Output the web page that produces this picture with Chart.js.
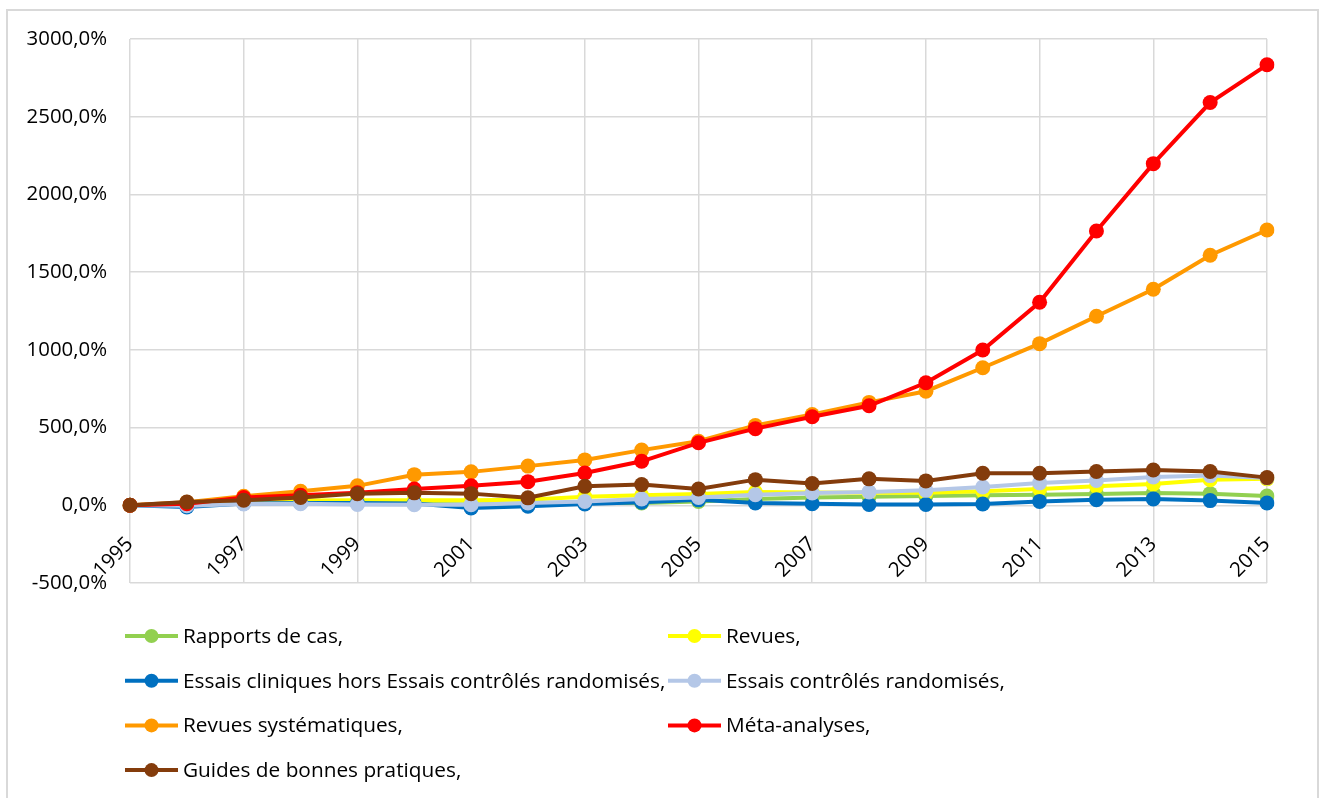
<!DOCTYPE html>
<html>
<head>
<meta charset="utf-8">
<script src="https://cdn.jsdelivr.net/npm/chart.js@4"></script>
<style>
  html, body { margin: 0; padding: 0; background: #fff; }
  #c { display: block; }
</style>
</head>
<body>
<canvas id="c" width="1325" height="798"></canvas>
<script>
const years = ['1995','1996','1997','1998','1999','2000','2001','2002','2003','2004','2005','2006','2007','2008','2009','2010','2011','2012','2013','2014','2015'];

const seriesNames = [
  'Rapports de cas,',
  'Revues,',
  'Essais cliniques hors Essais contrôlés randomisés,',
  'Essais contrôlés randomisés,',
  'Revues systématiques,',
  'Méta-analyses,',
  'Guides de bonnes pratiques,'
];

const rapportsDeCas   = [0, 5, 20, 20, 15, 10, 5, 10, 15, 15, 25, 40, 50, 55, 60, 64, 68, 73, 79, 75, 60];
const revues          = [0, 10, 25, 30, 32, 33, 32, 36, 55, 65, 72, 85, 82, 80, 80, 90, 105, 122, 137, 165, 170];
const essaisCliniques = [0, -11, 12, 15, 15, 12, -17, -6, 8, 20, 35, 15, 10, 5, 5, 8, 25, 36, 41, 30, 15];
const essaisControles = [0, -3, 8, 10, 5, 4, 4, 15, 25, 41, 50, 68, 79, 86, 96, 118, 144, 160, 182, 191, 176];
const revuesSystematiques = [0, 20, 58, 90, 125, 197, 215, 252, 292, 355, 412, 513, 584, 662, 734, 885, 1040, 1216, 1390, 1609, 1771];
const metaAnalyses    = [0, 10, 50, 65, 80, 105, 125, 152, 208, 283, 402, 493, 570, 640, 788, 999, 1306, 1765, 2198, 2591, 2834];
const guides          = [0, 21, 32, 50, 75, 80, 75, 48, 122, 133, 105, 165, 140, 170, 157, 206, 206, 217, 227, 217, 178];

const yTickMin = -500, yTickMax = 3000, yTickStep = 500;

const seriesValues = [rapportsDeCas, revues, essaisCliniques, essaisControles, revuesSystematiques, metaAnalyses, guides];
const seriesColors = ['#92D050', '#FFFF00', '#0070C0', '#B4C7E7', '#FF9900', '#FF0000', '#843C0C'];

const FONT = "'Open Sans', 'Liberation Sans', sans-serif";
Chart.defaults.font.family = FONT;
Chart.defaults.font.size = 20.4;
Chart.defaults.color = '#000';

const datasets = seriesValues.map((vals, i) => ({
  label: seriesNames[i],
  data: vals,
  borderColor: seriesColors[i],
  backgroundColor: seriesColors[i],
  pointBackgroundColor: seriesColors[i],
  pointBorderWidth: 0,
  pointRadius: 7.5,
  pointHoverRadius: 7.5,
  borderWidth: 4,
  tension: 0,
  fill: false,
  order: seriesValues.length - i
}));

const frameAndLegend = {
  id: 'frameAndLegend',
  beforeDraw(chart) {
    const ctx = chart.ctx;
    ctx.save();
    ctx.fillStyle = '#fff';
    ctx.fillRect(0, 0, chart.width, chart.height);
    ctx.strokeStyle = '#d9d9d9';
    ctx.lineWidth = 2;
    ctx.strokeRect(7, 10, 1311, 820);
    ctx.restore();
  },
  afterDraw(chart) {
    const ctx = chart.ctx;
    ctx.save();
    ctx.font = '20.8px ' + FONT;
    ctx.textBaseline = 'middle';
    ctx.textAlign = 'left';
    chart.data.datasets.forEach((ds, i) => {
      const col = i % 2, row = Math.floor(i / 2);
      const x0 = 125 + col * 543;
      const yc = 636 + row * 44.7;
      ctx.strokeStyle = ds.borderColor;
      ctx.lineWidth = 4;
      ctx.beginPath();
      ctx.moveTo(x0, yc);
      ctx.lineTo(x0 + 53, yc);
      ctx.stroke();
      ctx.fillStyle = ds.borderColor;
      ctx.beginPath();
      ctx.arc(x0 + 26.5, yc, 7, 0, Math.PI * 2);
      ctx.fill();
      ctx.fillStyle = '#000';
      ctx.fillText(ds.label, x0 + 58, yc + 1);
    });
    ctx.restore();
  }
};

new Chart(document.getElementById('c'), {
  type: 'line',
  data: { labels: years, datasets },
  plugins: [frameAndLegend],
  options: {
    responsive: false,
    animation: false,
    layout: { padding: { left: 0, top: 39, right: 58, bottom: 215 } },
    plugins: { legend: { display: false }, tooltip: { enabled: false } },
    scales: {
      x: {
        position: { y: 0 },
        offset: false,
        grid: { color: '#d9d9d9', lineWidth: 1.5, drawTicks: false },
        border: { display: false },
        ticks: {
          autoSkip: false,
          minRotation: 45,
          maxRotation: 45,
          padding: 27,
          color: '#000',
          callback: (v, i) => (i % 2 === 0 ? years[i] : null)
        },
        afterFit: s => { s.height = 0; }
      },
      y: {
        min: yTickMin,
        max: yTickMax,
        grid: { color: '#d9d9d9', lineWidth: 1.5, drawTicks: false },
        border: { display: false },
        ticks: {
          stepSize: yTickStep,
          padding: 23,
          color: '#000',
          callback: v => v.toFixed(1).replace('.', ',') + '%'
        },
        afterFit: s => { s.width = 130; }
      }
    }
  }
});
</script>
</body>
</html>
